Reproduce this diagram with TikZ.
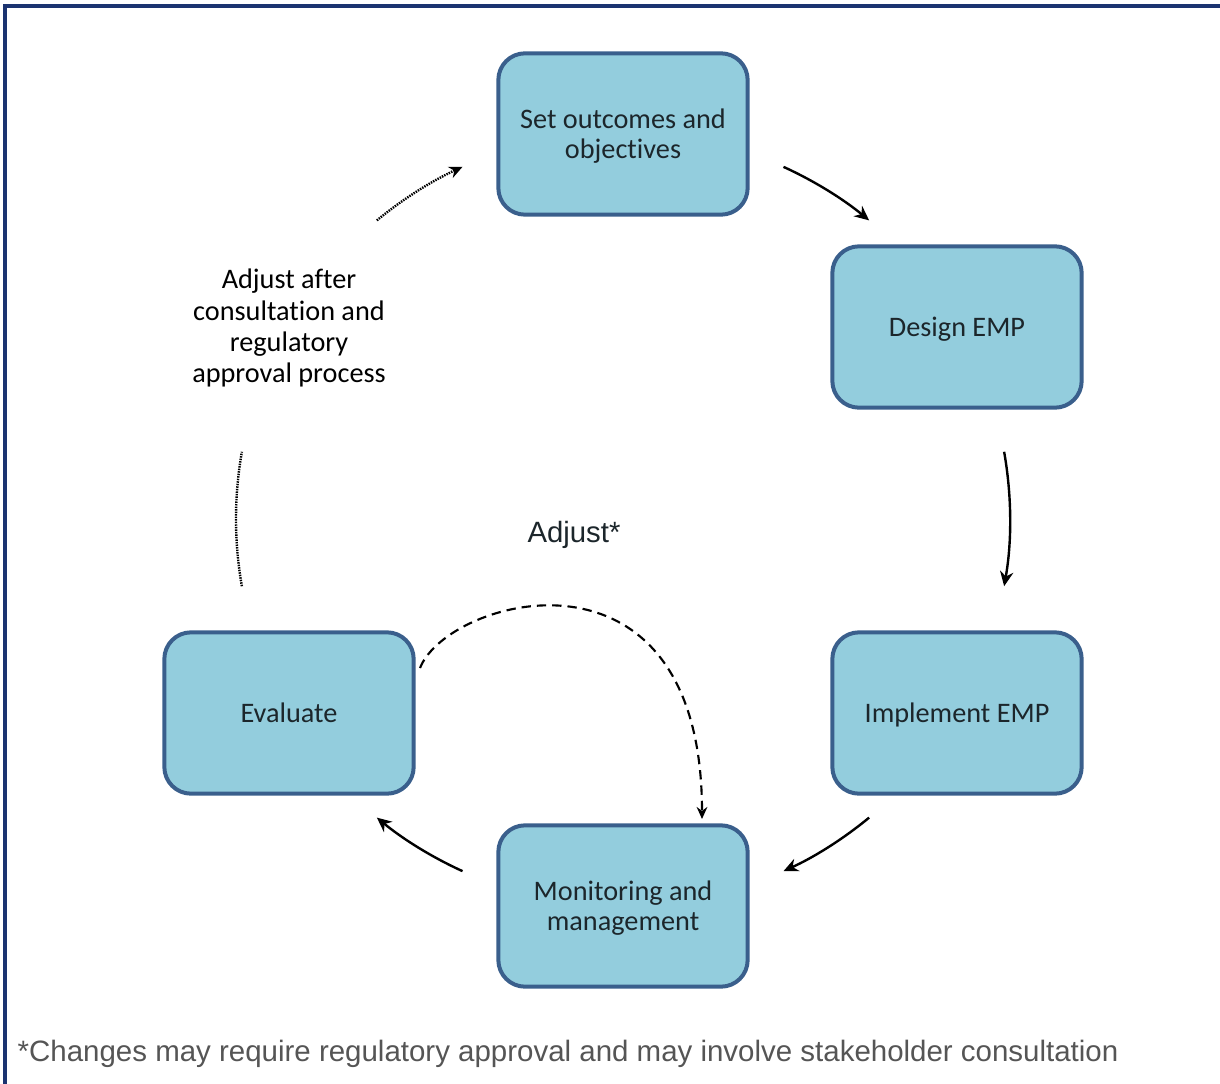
\documentclass[tikz,border=0pt]{standalone}
\usepackage{fontspec}
\setmainfont{Carlito}[Ligatures={TeX,NoCommon}]
\newfontfamily\arialfont{Liberation Sans}
\usetikzlibrary{arrows.meta,calc}

\definecolor{boxfill}{HTML}{93CDDD}
\definecolor{boxline}{HTML}{3A5F8C}
\definecolor{frameline}{HTML}{1B3370}
\definecolor{boxtext}{HTML}{1C262B}
\definecolor{notegray}{HTML}{555555}

\begin{document}
\begin{tikzpicture}[x=0.75pt,y=-0.75pt,
  stage/.style={draw=boxline, line width=3pt, fill=boxfill, rounded corners=20pt,
    minimum width=187pt, minimum height=121pt, align=center, text=boxtext,
    font=\fontsize{21.2}{22.5}\selectfont, inner sep=0pt, text depth=0pt},
  flow/.style={line width=1.8pt, -{Stealth[length=11pt,width=10pt]}},
  dotflow/.style={line width=1.8pt, dash pattern=on 1.1pt off 0.8pt},
  dashflow/.style={line width=1.6pt, dash pattern=on 7pt off 4.5pt}
]
\useasboundingbox (0,0) rectangle (1220,1084);

% frame (top and left edges)
\draw[frameline, line width=2.4pt] (5,1084) -- (5,6) -- (1220,6);

% stages of the cycle
\node[stage] (set)  at (623,134) {Set outcomes and\\objectives};
\node[stage] (des)  at (957,327) {Design EMP};
\node[stage] (imp)  at (957,713) {Implement EMP};
\node[stage] (mon)  at (623,906) {Monitoring and\\management};
\node[stage] (eva)  at (289,713) {Evaluate};

\node[align=center, text=black, font=\fontsize{21.2}{23.3}\selectfont] (adj) at (289,328)
  {Adjust after\\consultation and\\regulatory\\approval process};

\node[font=\arialfont\fontsize{22}{26}\selectfont, text=boxtext] (adjstar) at (574,535) {Adjust*};

\node[font=\arialfont\fontsize{22.1}{26}\selectfont, text=notegray, anchor=west] (note) at (13,1054)
  {*Changes may require regulatory approval and may involve stakeholder consultation};

% ring of connectors around the cycle centre
\coordinate (O) at (623,519);
\coordinate (a1) at ($(O)+(-65.5:387)$);
\coordinate (a2) at ($(O)+(-10:387)$);
\coordinate (a3) at ($(O)+(50.5:387)$);
\coordinate (a4) at ($(O)+(114.5:387)$);
\coordinate (a5) at ($(O)+(170:387)$);
\coordinate (a6) at ($(O)+(230.5:387)$);

\draw[flow] (a1) arc[start angle=-65.5, end angle=-50.5, radius=387];
\draw[flow] (a2) arc[start angle=-10, end angle=10, radius=387];
\draw[flow] (a3) arc[start angle=50.5, end angle=65.5, radius=387];
\draw[flow] (a4) arc[start angle=114.5, end angle=129.5, radius=387];
\draw[dotflow] (a5) arc[start angle=170, end angle=190, radius=387];
\draw[dotflow, -{Stealth[length=10pt,width=9pt]}] (a6) arc[start angle=230.5, end angle=245.5, radius=387];

% short adjustment loop from evaluation back to monitoring
\coordinate (loopstart) at (420,668);
\coordinate (loopend) at (702,819);
\draw[dashflow, -{Stealth[length=9pt,width=8pt]}] (loopstart)
  .. controls (448,597) and (702,528) .. (loopend);
\end{tikzpicture}
\end{document}
